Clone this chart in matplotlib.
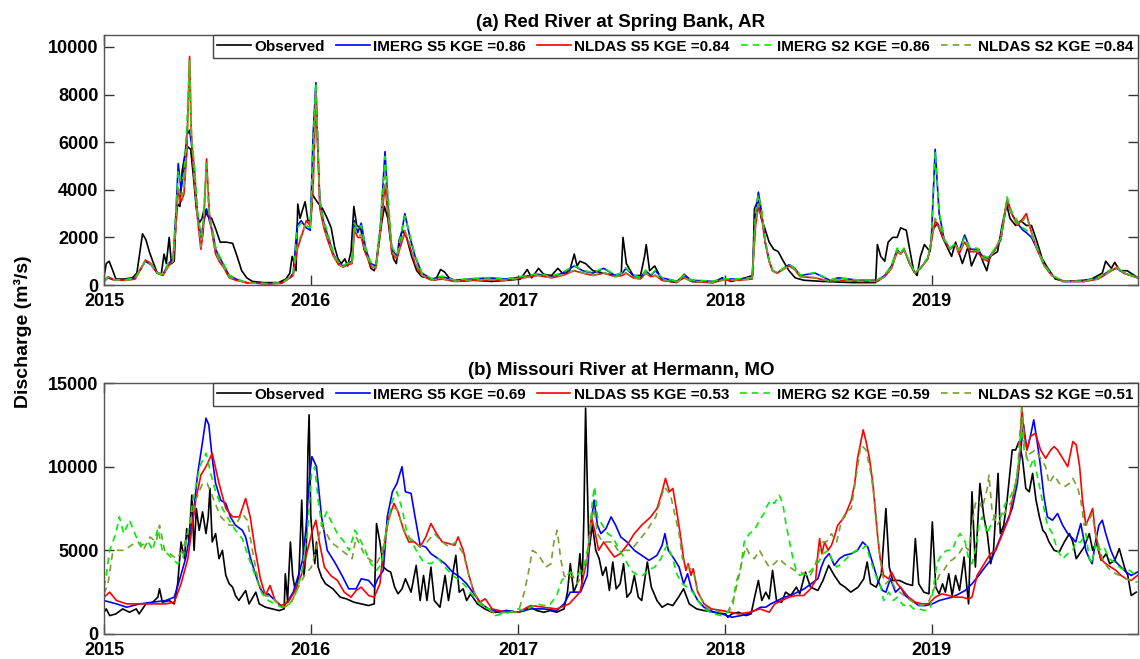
import matplotlib
matplotlib.use("Agg")
import matplotlib.pyplot as plt
import matplotlib.dates as mdates
import pandas as pd

# ---------------- Panel (a): Red River at Spring Bank, AR ----------------
a_title = "(a) Red River at Spring Bank, AR"
a_labels = ["Observed", "IMERG S5 KGE =0.86", "NLDAS S5 KGE =0.84",
            "IMERG S2 KGE =0.86", "NLDAS S2 KGE =0.84"]
a_yticks = [0, 2000, 4000, 6000, 8000, 10000]

a_obs = [
    ("2015-01-01", 350), ("2015-01-05", 900), ("2015-01-10", 1000), ("2015-01-15", 700),
    ("2015-01-22", 250), ("2015-02-05", 250), ("2015-02-20", 300), ("2015-02-28", 500),
    ("2015-03-06", 1500), ("2015-03-10", 2150), ("2015-03-16", 1900), ("2015-03-22", 1400),
    ("2015-03-28", 1000), ("2015-04-05", 500), ("2015-04-12", 450), ("2015-04-17", 1300),
    ("2015-04-21", 900), ("2015-04-26", 2000), ("2015-04-30", 900), ("2015-05-05", 1000),
    ("2015-05-08", 2800), ("2015-05-11", 3400), ("2015-05-15", 3300), ("2015-05-19", 4800),
    ("2015-05-24", 5500), ("2015-05-29", 5800), ("2015-06-03", 5700), ("2015-06-08", 4500),
    ("2015-06-13", 3200), ("2015-06-18", 2600), ("2015-06-23", 2800), ("2015-06-27", 3200),
    ("2015-07-03", 2900), ("2015-07-10", 2800), ("2015-07-18", 2300), ("2015-07-25", 1800),
    ("2015-08-05", 1800), ("2015-08-16", 1750), ("2015-08-24", 1200), ("2015-09-01", 600),
    ("2015-09-10", 300), ("2015-09-20", 150), ("2015-10-10", 100), ("2015-11-05", 100),
    ("2015-11-18", 250), ("2015-11-25", 500), ("2015-11-29", 1200), ("2015-12-03", 900),
    ("2015-12-06", 600), ("2015-12-09", 3400), ("2015-12-13", 2800), ("2015-12-18", 3200),
    ("2015-12-22", 3500), ("2015-12-27", 2700),
    ("2016-01-01", 2700), ("2016-01-04", 3800), ("2016-01-12", 3500), ("2016-01-22", 3200),
    ("2016-01-30", 2800), ("2016-02-06", 2400), ("2016-02-12", 1600), ("2016-02-18", 1100),
    ("2016-02-24", 900), ("2016-03-01", 1100), ("2016-03-06", 800), ("2016-03-12", 1400),
    ("2016-03-17", 3300), ("2016-03-22", 2500), ("2016-03-29", 2400), ("2016-04-04", 1500),
    ("2016-04-10", 1200), ("2016-04-16", 700), ("2016-04-22", 600), ("2016-04-26", 1000),
    ("2016-04-30", 1700), ("2016-05-05", 2600), ("2016-05-10", 3300), ("2016-05-16", 2800),
    ("2016-05-20", 2000), ("2016-05-26", 1100), ("2016-05-31", 900), ("2016-06-05", 1900),
    ("2016-06-11", 2300), ("2016-06-18", 2000), ("2016-06-27", 1200), ("2016-07-06", 600),
    ("2016-07-15", 350), ("2016-07-27", 300), ("2016-08-08", 200), ("2016-08-17", 650),
    ("2016-08-24", 550), ("2016-09-01", 300), ("2016-09-15", 150), ("2016-10-15", 200),
    ("2016-11-15", 150), ("2016-12-15", 200),
    ("2017-01-05", 250), ("2017-01-17", 650), ("2017-01-25", 300), ("2017-02-06", 700),
    ("2017-02-15", 450), ("2017-03-01", 400), ("2017-03-12", 700), ("2017-03-22", 450),
    ("2017-04-02", 600), ("2017-04-10", 1300), ("2017-04-15", 800), ("2017-04-20", 1000),
    ("2017-04-30", 900), ("2017-05-13", 600), ("2017-06-01", 500), ("2017-06-21", 400),
    ("2017-07-02", 500), ("2017-07-05", 2000), ("2017-07-11", 900), ("2017-07-23", 400),
    ("2017-08-05", 400), ("2017-08-12", 1200), ("2017-08-15", 1700), ("2017-08-21", 600),
    ("2017-08-30", 800), ("2017-09-12", 200), ("2017-10-08", 100), ("2017-10-21", 450),
    ("2017-11-03", 150), ("2017-12-11", 100), ("2017-12-27", 300),
    ("2018-01-12", 150), ("2018-02-06", 300), ("2018-02-19", 400), ("2018-02-22", 3200),
    ("2018-03-01", 3600), ("2018-03-06", 2800), ("2018-03-12", 2400), ("2018-03-20", 1800),
    ("2018-03-28", 1500), ("2018-04-05", 1400), ("2018-04-14", 1000), ("2018-04-24", 600),
    ("2018-05-05", 300), ("2018-05-20", 200), ("2018-06-22", 150), ("2018-08-15", 100),
    ("2018-09-24", 100), ("2018-09-27", 1700), ("2018-10-03", 1200), ("2018-10-10", 1000),
    ("2018-10-16", 1800), ("2018-10-24", 2000), ("2018-11-01", 2000), ("2018-11-07", 2400),
    ("2018-11-17", 2300), ("2018-11-23", 1500), ("2018-11-30", 600), ("2018-12-06", 400),
    ("2018-12-12", 1200), ("2018-12-19", 1700), ("2018-12-29", 1400),
    ("2019-01-02", 2300), ("2019-01-11", 2600), ("2019-01-20", 2000), ("2019-01-30", 1500),
    ("2019-02-05", 1200), ("2019-02-12", 1800), ("2019-02-24", 900), ("2019-03-06", 1600),
    ("2019-03-12", 800), ("2019-03-25", 1500), ("2019-04-01", 1000), ("2019-04-08", 600),
    ("2019-04-14", 1200), ("2019-04-27", 1400), ("2019-05-06", 2600), ("2019-05-13", 3400),
    ("2019-05-19", 2800), ("2019-05-29", 2500), ("2019-06-07", 2700), ("2019-06-17", 2500),
    ("2019-06-26", 2500), ("2019-07-06", 1800), ("2019-07-15", 1100), ("2019-07-25", 700),
    ("2019-08-07", 250), ("2019-08-26", 150), ("2019-09-27", 200), ("2019-10-10", 250),
    ("2019-10-29", 500), ("2019-11-04", 1000), ("2019-11-14", 700), ("2019-11-20", 950),
    ("2019-11-29", 600), ("2019-12-12", 600), ("2019-12-31", 300),
]

a_mod_dates = [
    # 2015 (40)
    "2015-01-01", "2015-01-08", "2015-01-20", "2015-02-10", "2015-02-25", "2015-03-05",
    "2015-03-15", "2015-03-25", "2015-04-05", "2015-04-15", "2015-04-25", "2015-05-03",
    "2015-05-08", "2015-05-12", "2015-05-17", "2015-05-22", "2015-05-27", "2015-06-01",
    "2015-06-04", "2015-06-09", "2015-06-15", "2015-06-21", "2015-06-25", "2015-07-01",
    "2015-07-06", "2015-07-12", "2015-07-17", "2015-07-23", "2015-08-01", "2015-08-10",
    "2015-08-22", "2015-09-09", "2015-10-15", "2015-11-10", "2015-11-25", "2015-12-01",
    "2015-12-08", "2015-12-15", "2015-12-24", "2015-12-31",
    # 2016 (33)
    "2016-01-05", "2016-01-10", "2016-01-13", "2016-01-17", "2016-01-24", "2016-02-01",
    "2016-02-10", "2016-02-19", "2016-02-27", "2016-03-07", "2016-03-14", "2016-03-18",
    "2016-03-24", "2016-03-30", "2016-04-07", "2016-04-16", "2016-04-25", "2016-05-03",
    "2016-05-11", "2016-05-16", "2016-05-23", "2016-06-01", "2016-06-07", "2016-06-15",
    "2016-06-24", "2016-07-03", "2016-07-15", "2016-08-01", "2016-08-20", "2016-09-10",
    "2016-10-10", "2016-11-10", "2016-12-10",
    # 2017 (22)
    "2017-01-10", "2017-02-05", "2017-03-01", "2017-03-20", "2017-04-10", "2017-04-25",
    "2017-05-13", "2017-06-01", "2017-06-21", "2017-07-04", "2017-07-10", "2017-07-23",
    "2017-08-05", "2017-08-14", "2017-08-23", "2017-08-31", "2017-09-12", "2017-10-08",
    "2017-10-21", "2017-11-03", "2017-12-11", "2017-12-27",
    # 2018 (27)
    "2018-01-25", "2018-02-18", "2018-02-24", "2018-03-01", "2018-03-07", "2018-03-13",
    "2018-03-20", "2018-03-26", "2018-04-03", "2018-04-24", "2018-05-04", "2018-05-14",
    "2018-06-09", "2018-07-05", "2018-07-20", "2018-08-24", "2018-09-27", "2018-10-10",
    "2018-10-22", "2018-11-01", "2018-11-07", "2018-11-13", "2018-11-23", "2018-12-02",
    "2018-12-12", "2018-12-25", "2018-12-31",
    # 2019 (29)
    "2019-01-07", "2019-01-14", "2019-01-23", "2019-02-02", "2019-02-12", "2019-02-18",
    "2019-02-28", "2019-03-10", "2019-03-22", "2019-04-01", "2019-04-10", "2019-04-23",
    "2019-05-03", "2019-05-14", "2019-05-22", "2019-06-01", "2019-06-11", "2019-06-17",
    "2019-06-26", "2019-07-06", "2019-07-19", "2019-08-01", "2019-08-20", "2019-09-27",
    "2019-10-22", "2019-11-11", "2019-11-24", "2019-12-06", "2019-12-31",
]

a_imerg_s5 = [
    150, 300, 200, 220, 300, 600, 1000, 850, 500, 450, 900, 1100,
    3000, 5100, 4000, 4800, 6300, 6500, 6000, 5000, 3000, 2000, 2500, 3200,
    2700, 2200, 1500, 1200, 800, 400, 250, 100, 50, 80, 300, 500,
    2500, 2700, 2400, 2300,
    6300, 8500, 6000, 3500, 2600, 2000, 1300, 900, 800, 900, 1000, 2700,
    2200, 2600, 1500, 900, 800, 2500, 5600, 3500, 1500, 1200, 1900, 3000,
    2000, 1200, 500, 250, 350, 200, 250, 300, 250,
    350, 450, 350, 500, 800, 600, 500, 700, 400, 500, 700, 400,
    300, 600, 400, 600, 300, 150, 400, 200, 150, 250,
    250, 300, 3000, 3900, 3000, 1800, 1000, 600, 500, 850, 700, 400,
    500, 200, 300, 200, 200, 400, 800, 1500, 1300, 1500, 900, 500,
    700, 1100, 1800,
    5700, 3000, 1900, 1500, 1700, 1400, 2100, 1500, 1500, 1200, 1100, 1500,
    1900, 3600, 3000, 2600, 2300, 2200, 2000, 1500, 800, 400, 150, 150,
    300, 600, 700, 500, 300,
]
a_nldas_s5 = [
    150, 350, 200, 200, 250, 600, 1050, 900, 500, 400, 800, 1000,
    2500, 4000, 3500, 3800, 5500, 9600, 6500, 4500, 2800, 1500, 2200, 5300,
    3000, 2000, 1300, 1000, 700, 300, 200, 100, 50, 70, 300, 400,
    1500, 2000, 2700, 2500,
    4000, 8000, 6000, 3200, 2400, 1800, 1200, 850, 750, 850, 900, 2300,
    2000, 2000, 1300, 800, 700, 2300, 4200, 3000, 1300, 1100, 1600, 2200,
    1600, 900, 400, 200, 250, 150, 200, 200, 200,
    300, 400, 300, 400, 600, 500, 400, 500, 350, 400, 500, 300,
    250, 500, 350, 400, 200, 120, 300, 150, 100, 200,
    200, 250, 2500, 3300, 2800, 1800, 1000, 600, 500, 800, 650, 350,
    300, 150, 200, 150, 150, 350, 700, 1400, 1300, 1500, 900, 500,
    700, 1100, 1800,
    2700, 2400, 1900, 1500, 1700, 1300, 1800, 1400, 1400, 1100, 1000, 1500,
    2000, 3500, 3000, 2500, 2800, 3000, 2200, 1500, 800, 400, 150, 150,
    250, 550, 750, 500, 300,
]
a_imerg_s2 = [
    160, 320, 210, 230, 300, 620, 1000, 870, 520, 460, 950, 1150,
    3200, 4800, 4300, 4600, 6600, 9400, 6200, 5200, 3100, 2100, 2600, 5100,
    2800, 2300, 1600, 1250, 850, 420, 260, 110, 60, 90, 320, 480,
    2400, 2600, 2500, 2400,
    6000, 8500, 6300, 3600, 2700, 2100, 1350, 950, 820, 920, 1050, 2600,
    2300, 2500, 1550, 950, 850, 2600, 5400, 3800, 1600, 1250, 2000, 2900,
    2100, 1250, 520, 270, 370, 210, 270, 310, 260,
    370, 470, 370, 520, 820, 620, 520, 720, 420, 520, 720, 420,
    320, 620, 420, 620, 310, 160, 420, 210, 160, 260,
    260, 310, 3100, 3800, 3100, 1900, 1050, 620, 520, 870, 720, 420,
    520, 210, 310, 210, 210, 420, 820, 1550, 1350, 1550, 950, 520,
    720, 1150, 1850,
    5600, 3100, 1950, 1550, 1750, 1450, 2000, 1550, 1550, 1250, 1150, 1550,
    1950, 3700, 3100, 2700, 2400, 2300, 2100, 1550, 850, 420, 160, 160,
    310, 620, 720, 520, 310,
]
a_nldas_s2 = [
    150, 340, 200, 200, 260, 590, 1000, 880, 500, 420, 820, 1000,
    2600, 4200, 3600, 4000, 5800, 9300, 6600, 4600, 2900, 1600, 2300, 5000,
    2900, 2100, 1400, 1050, 720, 320, 210, 100, 50, 70, 290, 420,
    1600, 2100, 2600, 2500,
    4200, 8200, 6100, 3300, 2500, 1900, 1250, 870, 760, 860, 950, 2400,
    2100, 2100, 1350, 820, 720, 2400, 4600, 3200, 1400, 1150, 1700, 2300,
    1700, 950, 420, 210, 260, 160, 210, 220, 210,
    310, 410, 310, 420, 620, 510, 410, 520, 360, 410, 520, 310,
    260, 510, 360, 420, 210, 130, 310, 160, 110, 210,
    210, 260, 2600, 3400, 2900, 1850, 1000, 610, 510, 810, 660, 360,
    310, 160, 210, 160, 160, 360, 720, 1450, 1300, 1500, 900, 500,
    700, 1100, 1800,
    2800, 2500, 1900, 1500, 1700, 1350, 1850, 1450, 1450, 1150, 1050, 1500,
    2000, 3600, 3000, 2550, 2700, 2900, 2250, 1500, 800, 400, 150, 150,
    260, 560, 740, 500, 300,
]

# ---------------- Panel (b): Missouri River at Hermann, MO ----------------
b_title = "(b) Missouri River at Hermann, MO"
b_labels = ["Observed", "IMERG S5 KGE =0.69", "NLDAS S5 KGE =0.53",
            "IMERG S2 KGE =0.59", "NLDAS S2 KGE =0.51"]
b_yticks = [0, 5000, 10000, 15000]

b_obs = [
    ("2015-01-01", 1300), ("2015-01-05", 1500), ("2015-01-11", 1100), ("2015-01-22", 1200),
    ("2015-02-03", 1500), ("2015-02-15", 1300), ("2015-02-27", 1500), ("2015-03-04", 1200),
    ("2015-03-16", 1800), ("2015-03-28", 1900), ("2015-04-06", 2200), ("2015-04-09", 2700),
    ("2015-04-14", 1900), ("2015-04-26", 2000), ("2015-05-05", 1800), ("2015-05-11", 3000),
    ("2015-05-17", 5500), ("2015-05-23", 4500), ("2015-05-27", 6300), ("2015-05-31", 5500),
    ("2015-06-05", 8300), ("2015-06-09", 5000), ("2015-06-13", 7500), ("2015-06-18", 6200),
    ("2015-06-24", 7300), ("2015-06-30", 6000), ("2015-07-04", 7000), ("2015-07-07", 8700),
    ("2015-07-11", 5500), ("2015-07-17", 6000), ("2015-07-23", 4500), ("2015-07-29", 5000),
    ("2015-08-04", 3500), ("2015-08-10", 3000), ("2015-08-16", 2800), ("2015-08-21", 2300),
    ("2015-08-27", 2000), ("2015-09-08", 2600), ("2015-09-14", 1800), ("2015-09-26", 2500),
    ("2015-10-02", 1800), ("2015-10-13", 1600), ("2015-11-06", 1400), ("2015-11-15", 1500),
    ("2015-11-17", 3600), ("2015-11-21", 2000), ("2015-11-26", 5500), ("2015-11-30", 3500),
    ("2015-12-05", 2500), ("2015-12-11", 3500), ("2015-12-16", 8000), ("2015-12-20", 3500),
    ("2015-12-24", 5000), ("2015-12-27", 11000), ("2015-12-29", 13100),
    ("2016-01-01", 7000), ("2016-01-04", 5700), ("2016-01-08", 4200), ("2016-01-11", 5500),
    ("2016-01-14", 4000), ("2016-01-20", 3400), ("2016-01-27", 3000), ("2016-02-09", 2700),
    ("2016-02-22", 2200), ("2016-03-04", 2100), ("2016-03-17", 1900), ("2016-03-30", 1800),
    ("2016-04-12", 1700), ("2016-04-22", 1800), ("2016-04-26", 6600), ("2016-05-02", 5500),
    ("2016-05-08", 4000), ("2016-05-15", 3800), ("2016-05-21", 3700), ("2016-05-28", 2800),
    ("2016-06-03", 2400), ("2016-06-10", 2700), ("2016-06-16", 3300), ("2016-06-26", 2500),
    ("2016-07-05", 4100), ("2016-07-12", 2000), ("2016-07-18", 3500), ("2016-07-24", 2000),
    ("2016-07-31", 4000), ("2016-08-06", 2000), ("2016-08-16", 1600), ("2016-08-25", 3500),
    ("2016-08-31", 2000), ("2016-09-07", 3500), ("2016-09-13", 4700), ("2016-09-19", 2500),
    ("2016-09-26", 2700), ("2016-10-02", 2000), ("2016-10-09", 2400), ("2016-10-21", 1800),
    ("2016-11-03", 1500), ("2016-11-16", 1300), ("2016-11-29", 1300), ("2016-12-11", 1400),
    ("2016-12-31", 1300),
    ("2017-01-12", 1400), ("2017-01-23", 1600), ("2017-02-03", 1400), ("2017-02-15", 1300),
    ("2017-02-27", 1400), ("2017-03-10", 1300), ("2017-03-23", 1500), ("2017-03-29", 2500),
    ("2017-04-03", 4200), ("2017-04-09", 2500), ("2017-04-15", 3000), ("2017-04-20", 4800),
    ("2017-04-24", 3000), ("2017-04-27", 7000), ("2017-04-30", 13500), ("2017-05-03", 9000),
    ("2017-05-06", 5000), ("2017-05-12", 6500), ("2017-05-18", 5000), ("2017-05-24", 4500),
    ("2017-05-30", 3500), ("2017-06-05", 4000), ("2017-06-11", 2600), ("2017-06-17", 4300),
    ("2017-06-23", 2700), ("2017-06-30", 3000), ("2017-07-06", 4200), ("2017-07-12", 2200),
    ("2017-07-19", 2500), ("2017-07-25", 3500), ("2017-08-01", 2200), ("2017-08-07", 2000),
    ("2017-08-17", 4300), ("2017-08-24", 2800), ("2017-09-03", 2000), ("2017-09-12", 1600),
    ("2017-09-22", 1800), ("2017-10-01", 1700), ("2017-10-11", 2200), ("2017-10-20", 2700),
    ("2017-10-30", 1800), ("2017-11-12", 1500), ("2017-11-25", 1400), ("2017-12-14", 1300),
    ("2018-01-02", 1200), ("2018-01-06", 1000), ("2018-01-13", 1200), ("2018-01-25", 1300),
    ("2018-02-07", 1100), ("2018-02-16", 1200), ("2018-02-23", 2300), ("2018-03-01", 3200),
    ("2018-03-07", 2000), ("2018-03-14", 2500), ("2018-03-20", 2100), ("2018-03-26", 3800),
    ("2018-04-02", 2000), ("2018-04-11", 1900), ("2018-04-18", 2500), ("2018-04-27", 2300),
    ("2018-05-07", 2800), ("2018-05-13", 2400), ("2018-05-23", 3700), ("2018-06-01", 2800),
    ("2018-06-14", 2600), ("2018-06-23", 3200), ("2018-07-03", 4100), ("2018-07-13", 3500),
    ("2018-07-23", 3000), ("2018-08-01", 2800), ("2018-08-11", 2500), ("2018-08-24", 2800),
    ("2018-09-03", 3300), ("2018-09-09", 4300), ("2018-09-15", 3000), ("2018-09-25", 2800),
    ("2018-10-04", 3600), ("2018-10-12", 7500), ("2018-10-18", 4000), ("2018-10-24", 3200),
    ("2018-11-05", 3200), ("2018-11-17", 3000), ("2018-11-28", 2900), ("2018-12-03", 5700),
    ("2018-12-09", 3000), ("2018-12-18", 2500), ("2018-12-27", 2400),
    ("2019-01-02", 6700), ("2019-01-08", 2800), ("2019-01-14", 2400), ("2019-01-20", 3000),
    ("2019-01-25", 2500), ("2019-01-31", 3600), ("2019-02-06", 2300), ("2019-02-12", 3500),
    ("2019-02-19", 2600), ("2019-02-27", 4600), ("2019-03-04", 2800), ("2019-03-07", 1800),
    ("2019-03-13", 8500), ("2019-03-19", 4000), ("2019-03-27", 9000), ("2019-04-03", 7000),
    ("2019-04-09", 6000), ("2019-04-15", 4200), ("2019-04-20", 5000), ("2019-04-28", 9600),
    ("2019-05-02", 6000), ("2019-05-08", 6500), ("2019-05-14", 8000), ("2019-05-23", 11000),
    ("2019-05-29", 11000), ("2019-06-04", 11500), ("2019-06-10", 10500), ("2019-06-16", 8700),
    ("2019-06-22", 8500), ("2019-06-28", 9600), ("2019-07-04", 8000), ("2019-07-10", 7000),
    ("2019-07-16", 6200), ("2019-07-21", 6000), ("2019-07-27", 5500), ("2019-08-05", 5000),
    ("2019-08-14", 4900), ("2019-08-23", 5500), ("2019-09-01", 6000), ("2019-09-07", 5500),
    ("2019-09-13", 4500), ("2019-09-19", 4800), ("2019-09-27", 5200), ("2019-10-06", 6000),
    ("2019-10-12", 5000), ("2019-10-18", 5500), ("2019-10-27", 4400), ("2019-11-05", 4800),
    ("2019-11-11", 4200), ("2019-11-20", 4400), ("2019-11-28", 5100), ("2019-12-07", 4000),
    ("2019-12-13", 3500), ("2019-12-19", 2300), ("2019-12-28", 2500),
]

b_imerg_s5 = [
    ("2015-01-01", 2000), ("2015-01-23", 1800), ("2015-02-10", 1600), ("2015-03-05", 1800),
    ("2015-03-28", 1900), ("2015-04-20", 2000), ("2015-05-05", 2200), ("2015-05-14", 3200),
    ("2015-05-25", 4500), ("2015-06-07", 6900), ("2015-06-15", 9500), ("2015-06-24", 11500),
    ("2015-06-30", 12900), ("2015-07-05", 12500), ("2015-07-11", 10500), ("2015-07-17", 9000),
    ("2015-07-26", 8000), ("2015-08-04", 7800), ("2015-08-12", 7000), ("2015-08-21", 6500),
    ("2015-09-02", 6200), ("2015-09-08", 5800), ("2015-09-16", 4600), ("2015-09-25", 3600),
    ("2015-10-04", 2700), ("2015-10-13", 2300), ("2015-10-18", 2400), ("2015-10-24", 2200),
    ("2015-11-05", 1800), ("2015-11-13", 1600), ("2015-11-22", 2000), ("2015-12-01", 2500),
    ("2015-12-10", 3500), ("2015-12-18", 4500), ("2015-12-24", 6500), ("2015-12-30", 9500),
    ("2016-01-03", 10600), ("2016-01-11", 10000), ("2016-01-20", 7000), ("2016-01-30", 5000),
    ("2016-02-12", 4300), ("2016-02-25", 3500), ("2016-03-08", 2700), ("2016-03-21", 2700),
    ("2016-03-30", 3300), ("2016-04-12", 3200), ("2016-04-22", 2800), ("2016-04-28", 3300),
    ("2016-05-08", 3800), ("2016-05-15", 7000), ("2016-05-24", 8500), ("2016-06-01", 9000),
    ("2016-06-10", 10000), ("2016-06-16", 8500), ("2016-06-26", 8400), ("2016-07-03", 7000),
    ("2016-07-12", 5300), ("2016-07-22", 5200), ("2016-07-31", 4800), ("2016-08-13", 4500),
    ("2016-08-25", 4200), ("2016-09-07", 3700), ("2016-09-20", 3400), ("2016-10-02", 3000),
    ("2016-10-15", 2400), ("2016-10-28", 1800), ("2016-11-10", 1500), ("2016-11-29", 1300),
    ("2016-12-11", 1400),
    ("2017-01-01", 1300), ("2017-01-23", 1500), ("2017-02-15", 1500), ("2017-03-10", 1400),
    ("2017-03-23", 1800), ("2017-04-03", 2500), ("2017-04-21", 2500), ("2017-05-03", 3500),
    ("2017-05-09", 6500), ("2017-05-15", 8000), ("2017-05-21", 6500), ("2017-05-27", 6000),
    ("2017-06-05", 6300), ("2017-06-14", 7000), ("2017-06-22", 6500), ("2017-07-01", 5800),
    ("2017-07-12", 5500), ("2017-07-25", 5000), ("2017-08-07", 4700), ("2017-08-20", 4400),
    ("2017-09-03", 4700), ("2017-09-12", 5300), ("2017-09-17", 6000), ("2017-09-23", 5000),
    ("2017-10-03", 4500), ("2017-10-12", 4000), ("2017-10-20", 3000), ("2017-10-27", 3600),
    ("2017-11-03", 2700), ("2017-11-14", 2000), ("2017-11-25", 1600), ("2017-12-13", 1300),
    ("2017-12-27", 1200),
    ("2018-01-13", 1000), ("2018-01-29", 1100), ("2018-02-10", 1200), ("2018-02-22", 1400),
    ("2018-03-05", 1600), ("2018-03-14", 1600), ("2018-03-23", 1800), ("2018-04-04", 2000),
    ("2018-04-16", 2200), ("2018-04-27", 2300), ("2018-05-09", 2500), ("2018-05-21", 2700),
    ("2018-06-02", 3000), ("2018-06-14", 3300), ("2018-06-20", 4000), ("2018-06-26", 4500),
    ("2018-07-04", 4800), ("2018-07-13", 4100), ("2018-07-22", 4500), ("2018-07-31", 4700),
    ("2018-08-12", 4800), ("2018-08-23", 5000), ("2018-09-01", 5500), ("2018-09-10", 5200),
    ("2018-09-19", 4200), ("2018-09-28", 3200), ("2018-10-06", 2600), ("2018-10-12", 2500),
    ("2018-10-20", 3300), ("2018-10-29", 2500), ("2018-11-07", 2800), ("2018-11-15", 2300),
    ("2018-11-27", 2000), ("2018-12-09", 1700), ("2018-12-21", 1700),
    ("2019-01-02", 1800), ("2019-01-14", 2000), ("2019-01-25", 2100), ("2019-02-06", 2200),
    ("2019-02-18", 2400), ("2019-03-01", 2600), ("2019-03-13", 3000), ("2019-03-25", 3500),
    ("2019-04-05", 4000), ("2019-04-17", 4500), ("2019-04-29", 5500), ("2019-05-11", 6500),
    ("2019-05-23", 7500), ("2019-06-01", 9000), ("2019-06-07", 11000), ("2019-06-12", 12500),
    ("2019-06-18", 11000), ("2019-06-24", 11800), ("2019-06-30", 12800), ("2019-07-06", 11500),
    ("2019-07-12", 10000), ("2019-07-18", 8200), ("2019-07-24", 7000), ("2019-08-02", 6800),
    ("2019-08-11", 7200), ("2019-08-20", 6500), ("2019-08-29", 6000), ("2019-09-07", 5700),
    ("2019-09-12", 5500), ("2019-09-21", 6600), ("2019-09-30", 5000), ("2019-10-06", 4500),
    ("2019-10-11", 4200), ("2019-10-17", 5500), ("2019-10-23", 6500), ("2019-10-29", 6800),
    ("2019-11-04", 6000), ("2019-11-13", 5000), ("2019-11-22", 4300), ("2019-12-01", 4000),
    ("2019-12-10", 3700), ("2019-12-19", 3500), ("2019-12-30", 3700),
]

b_nldas_s5 = [
    ("2015-01-01", 2200), ("2015-01-11", 2500), ("2015-01-23", 2000), ("2015-02-10", 1800),
    ("2015-03-15", 1800), ("2015-04-20", 1800), ("2015-05-05", 1900), ("2015-05-17", 3000),
    ("2015-05-29", 4500), ("2015-06-12", 8000), ("2015-06-21", 9500), ("2015-06-30", 10000),
    ("2015-07-11", 10800), ("2015-07-23", 9000), ("2015-08-04", 7500), ("2015-08-16", 7000),
    ("2015-08-28", 7000), ("2015-09-08", 8100), ("2015-09-16", 7000), ("2015-09-25", 5000),
    ("2015-10-04", 3300), ("2015-10-13", 2300), ("2015-10-21", 2900), ("2015-10-30", 2000),
    ("2015-11-10", 1700), ("2015-11-22", 1900), ("2015-12-03", 2500), ("2015-12-15", 3500),
    ("2015-12-26", 5000),
    ("2016-01-04", 6200), ("2016-01-10", 6800), ("2016-01-16", 5500), ("2016-01-25", 4000),
    ("2016-02-05", 3500), ("2016-02-17", 3200), ("2016-02-29", 2500), ("2016-03-12", 2200),
    ("2016-03-21", 2600), ("2016-03-30", 2800), ("2016-04-12", 2300), ("2016-04-22", 2200),
    ("2016-05-02", 3000), ("2016-05-08", 5000), ("2016-05-18", 7000), ("2016-05-27", 7800),
    ("2016-06-03", 7300), ("2016-06-13", 6200), ("2016-06-22", 5500), ("2016-07-02", 5500),
    ("2016-07-12", 5200), ("2016-07-22", 5800), ("2016-07-31", 6600), ("2016-08-10", 6000),
    ("2016-08-20", 5500), ("2016-09-01", 5400), ("2016-09-11", 5300), ("2016-09-17", 5800),
    ("2016-09-26", 5000), ("2016-10-06", 3500), ("2016-10-15", 2500), ("2016-10-25", 1900),
    ("2016-11-04", 2100), ("2016-11-16", 1500), ("2016-11-29", 1400), ("2016-12-11", 1300),
    ("2017-01-01", 1300), ("2017-01-23", 1700), ("2017-02-15", 1600), ("2017-03-10", 1500),
    ("2017-04-01", 1800), ("2017-04-20", 2500), ("2017-05-03", 4500), ("2017-05-10", 7000),
    ("2017-05-16", 6200), ("2017-05-23", 5000), ("2017-06-01", 5500), ("2017-06-11", 5000),
    ("2017-06-20", 4600), ("2017-06-30", 4800), ("2017-07-12", 5300), ("2017-07-25", 6000),
    ("2017-08-07", 6500), ("2017-08-23", 7000), ("2017-09-03", 7500), ("2017-09-12", 8500),
    ("2017-09-18", 9300), ("2017-09-25", 8500), ("2017-10-01", 8700), ("2017-10-07", 7500),
    ("2017-10-14", 6000), ("2017-10-20", 4500), ("2017-10-24", 3800), ("2017-10-28", 4200),
    ("2017-11-02", 3500), ("2017-11-06", 3900), ("2017-11-14", 2500), ("2017-11-25", 1800),
    ("2017-12-08", 1500), ("2017-12-27", 1400),
    ("2018-01-25", 1200), ("2018-02-13", 1300), ("2018-03-04", 1500), ("2018-03-20", 1300),
    ("2018-03-30", 1800), ("2018-04-11", 2000), ("2018-04-24", 2200), ("2018-05-07", 2300),
    ("2018-05-20", 2300), ("2018-06-01", 2700), ("2018-06-10", 3200), ("2018-06-14", 4800),
    ("2018-06-17", 5700), ("2018-06-21", 4800), ("2018-06-26", 5500), ("2018-07-02", 5000),
    ("2018-07-08", 5300), ("2018-07-13", 5800), ("2018-07-19", 6500), ("2018-07-31", 7000),
    ("2018-08-06", 7500), ("2018-08-12", 8000), ("2018-08-18", 9000), ("2018-08-23", 10500),
    ("2018-08-29", 11500), ("2018-09-02", 12200), ("2018-09-07", 11500), ("2018-09-13", 10500),
    ("2018-09-19", 9000), ("2018-09-27", 6000), ("2018-10-02", 4500), ("2018-10-08", 3500),
    ("2018-10-17", 3300), ("2018-10-22", 3700), ("2018-11-01", 3000), ("2018-11-09", 2700),
    ("2018-11-21", 2200), ("2018-12-03", 1900), ("2018-12-15", 1800), ("2018-12-26", 1800),
    ("2019-01-07", 2200), ("2019-01-19", 2400), ("2019-01-31", 2300), ("2019-02-12", 2200),
    ("2019-02-23", 2200), ("2019-03-07", 2100), ("2019-03-13", 2200), ("2019-03-22", 3500),
    ("2019-04-09", 4500), ("2019-04-15", 4800), ("2019-04-24", 5000), ("2019-05-06", 6000),
    ("2019-05-18", 7000), ("2019-05-26", 8500), ("2019-06-04", 10000), ("2019-06-09", 13500),
    ("2019-06-13", 12000), ("2019-06-18", 11000), ("2019-06-24", 11800), ("2019-07-03", 12000),
    ("2019-07-12", 11000), ("2019-07-21", 10500), ("2019-07-30", 11000), ("2019-08-05", 11200),
    ("2019-08-11", 11000), ("2019-08-20", 10500), ("2019-08-29", 10000), ("2019-09-07", 11500),
    ("2019-09-13", 11300), ("2019-09-19", 10000), ("2019-09-24", 8000), ("2019-09-30", 6500),
    ("2019-10-06", 7000), ("2019-10-12", 7500), ("2019-10-17", 6000), ("2019-10-26", 4500),
    ("2019-11-04", 4200), ("2019-11-13", 4000), ("2019-11-22", 3800), ("2019-12-01", 3500),
    ("2019-12-10", 3300), ("2019-12-19", 3200), ("2019-12-30", 3500),
]

b_imerg_s2 = [
    ("2015-01-01", 2800), ("2015-01-05", 3500), ("2015-01-11", 5000), ("2015-01-22", 6000),
    ("2015-01-28", 7000), ("2015-02-05", 6000), ("2015-02-15", 6800), ("2015-02-27", 5800),
    ("2015-03-09", 5300), ("2015-03-20", 5500), ("2015-03-28", 5000), ("2015-04-06", 6300),
    ("2015-04-14", 5000), ("2015-04-23", 4800), ("2015-05-02", 4500), ("2015-05-11", 4200),
    ("2015-05-20", 4500), ("2015-05-29", 6000), ("2015-06-07", 8000), ("2015-06-19", 10000),
    ("2015-06-30", 10800), ("2015-07-09", 9500), ("2015-07-17", 8500), ("2015-07-29", 7500),
    ("2015-08-10", 6800), ("2015-08-21", 6200), ("2015-09-02", 5700), ("2015-09-14", 4500),
    ("2015-09-25", 3500), ("2015-10-07", 2400), ("2015-10-18", 2000), ("2015-10-30", 1800),
    ("2015-11-10", 1600), ("2015-11-22", 1700), ("2015-12-03", 2200), ("2015-12-15", 3500),
    ("2015-12-26", 6000),
    ("2016-01-02", 9500), ("2016-01-08", 10000), ("2016-01-14", 8000), ("2016-01-20", 6500),
    ("2016-01-29", 7300), ("2016-02-05", 6800), ("2016-02-17", 6000), ("2016-02-29", 5500),
    ("2016-03-09", 5000), ("2016-03-19", 6200), ("2016-03-30", 5500), ("2016-04-06", 5000),
    ("2016-04-16", 4200), ("2016-04-26", 3800), ("2016-05-05", 4200), ("2016-05-15", 6500),
    ("2016-05-24", 8000), ("2016-06-01", 8500), ("2016-06-10", 7500), ("2016-06-19", 6000),
    ("2016-06-29", 5400), ("2016-07-08", 4800), ("2016-07-18", 4300), ("2016-07-31", 4200),
    ("2016-08-13", 4500), ("2016-08-25", 4000), ("2016-09-07", 3500), ("2016-09-20", 3200),
    ("2016-10-02", 2800), ("2016-10-15", 2200), ("2016-10-28", 1700), ("2016-11-10", 1500),
    ("2016-11-22", 1100), ("2016-12-05", 1200), ("2016-12-18", 1300),
    ("2017-01-01", 1500), ("2017-01-12", 1400), ("2017-01-23", 1600), ("2017-02-03", 1800),
    ("2017-02-15", 1700), ("2017-02-27", 1800), ("2017-03-10", 2300), ("2017-03-19", 3200),
    ("2017-04-03", 3700), ("2017-04-15", 3500), ("2017-04-27", 4000), ("2017-05-06", 5500),
    ("2017-05-12", 8000), ("2017-05-16", 8800), ("2017-05-21", 7000), ("2017-05-30", 6500),
    ("2017-06-08", 6000), ("2017-06-17", 5800), ("2017-06-26", 5200), ("2017-07-08", 4500),
    ("2017-07-19", 3800), ("2017-07-31", 3500), ("2017-08-09", 3500), ("2017-08-18", 3800),
    ("2017-08-30", 4000), ("2017-09-10", 4500), ("2017-09-16", 5000), ("2017-09-21", 5300),
    ("2017-09-30", 4600), ("2017-10-09", 3500), ("2017-10-18", 3000), ("2017-10-26", 2800),
    ("2017-11-05", 2500), ("2017-11-14", 2000), ("2017-11-25", 1500), ("2017-12-13", 1200),
    ("2017-12-25", 1100),
    ("2018-01-06", 1300), ("2018-01-15", 1700), ("2018-01-20", 3000), ("2018-01-29", 4000),
    ("2018-02-04", 5500), ("2018-02-13", 6000), ("2018-02-22", 6200), ("2018-03-03", 6800),
    ("2018-03-11", 7200), ("2018-03-17", 7700), ("2018-03-23", 8000), ("2018-03-29", 7800),
    ("2018-04-07", 8300), ("2018-04-13", 7800), ("2018-04-19", 6500), ("2018-04-25", 5500),
    ("2018-05-01", 4500), ("2018-05-07", 3800), ("2018-05-13", 3500), ("2018-05-19", 3600),
    ("2018-05-27", 3600), ("2018-06-08", 4000), ("2018-06-17", 4400), ("2018-06-23", 4800),
    ("2018-07-02", 5000), ("2018-07-08", 4500), ("2018-07-17", 4000), ("2018-07-26", 4200),
    ("2018-08-03", 4500), ("2018-08-12", 4800), ("2018-08-21", 5000), ("2018-08-29", 5000),
    ("2018-09-07", 5300), ("2018-09-16", 4300), ("2018-09-24", 3500), ("2018-10-03", 2800),
    ("2018-10-08", 2000), ("2018-10-17", 2500), ("2018-10-25", 2000), ("2018-11-01", 2200),
    ("2018-11-12", 1700), ("2018-11-21", 1800), ("2018-11-30", 1500), ("2018-12-09", 1500),
    ("2018-12-21", 1400), ("2018-12-30", 1600),
    ("2019-01-05", 3000), ("2019-01-10", 4200), ("2019-01-19", 4800), ("2019-01-28", 5000),
    ("2019-02-06", 5000), ("2019-02-14", 5700), ("2019-02-20", 6000), ("2019-03-01", 5500),
    ("2019-03-07", 4500), ("2019-03-13", 4200), ("2019-03-19", 5000), ("2019-03-25", 6500),
    ("2019-03-31", 7000), ("2019-04-09", 6000), ("2019-04-15", 6500), ("2019-04-24", 7200),
    ("2019-05-03", 7000), ("2019-05-11", 7800), ("2019-05-20", 8200), ("2019-05-29", 9000),
    ("2019-06-04", 10500), ("2019-06-09", 12500), ("2019-06-13", 11000), ("2019-06-18", 10500),
    ("2019-06-24", 10000), ("2019-06-30", 10500), ("2019-07-06", 9500), ("2019-07-12", 8500),
    ("2019-07-18", 7500), ("2019-07-24", 6500), ("2019-08-02", 6000), ("2019-08-11", 5000),
    ("2019-08-20", 4500), ("2019-08-29", 4800), ("2019-09-07", 5000), ("2019-09-12", 5500),
    ("2019-09-21", 5500), ("2019-09-30", 6000), ("2019-10-06", 4500), ("2019-10-11", 4200),
    ("2019-10-17", 5500), ("2019-10-23", 5000), ("2019-11-01", 5200), ("2019-11-10", 4500),
    ("2019-11-19", 4300), ("2019-11-28", 4000), ("2019-12-07", 3800), ("2019-12-16", 3800),
    ("2019-12-28", 3500),
]

b_nldas_s2 = [
    ("2015-01-01", 2400), ("2015-01-08", 3000), ("2015-01-16", 4800), ("2015-01-25", 5000),
    ("2015-02-06", 5000), ("2015-02-18", 5300), ("2015-03-02", 5500), ("2015-03-11", 5000),
    ("2015-03-23", 5800), ("2015-04-03", 5500), ("2015-04-09", 6500), ("2015-04-18", 5000),
    ("2015-04-27", 4800), ("2015-05-09", 4500), ("2015-05-20", 5000), ("2015-06-01", 6500),
    ("2015-06-12", 8000), ("2015-06-24", 9000), ("2015-07-02", 9000), ("2015-07-14", 8000),
    ("2015-07-26", 7000), ("2015-08-10", 6500), ("2015-08-21", 6500), ("2015-09-02", 7200),
    ("2015-09-11", 6800), ("2015-09-20", 5000), ("2015-10-01", 3000), ("2015-10-13", 2300),
    ("2015-10-24", 2200), ("2015-11-05", 1800), ("2015-11-16", 1600), ("2015-11-28", 1900),
    ("2015-12-10", 2800), ("2015-12-21", 3500),
    ("2016-01-02", 4000), ("2016-01-10", 5000), ("2016-01-20", 6500), ("2016-01-29", 6000),
    ("2016-02-05", 5500), ("2016-02-17", 5200), ("2016-03-03", 4800), ("2016-03-14", 4500),
    ("2016-03-21", 5800), ("2016-04-04", 4800), ("2016-04-12", 4500), ("2016-04-26", 4200),
    ("2016-05-05", 4800), ("2016-05-15", 6500), ("2016-05-24", 7500), ("2016-06-01", 7500),
    ("2016-06-10", 6500), ("2016-06-19", 5800), ("2016-06-29", 5600), ("2016-07-12", 5200),
    ("2016-07-24", 5500), ("2016-08-06", 6000), ("2016-08-20", 5500), ("2016-09-01", 5200),
    ("2016-09-13", 5500), ("2016-09-26", 4800), ("2016-10-06", 3500), ("2016-10-15", 2500),
    ("2016-10-28", 1800), ("2016-11-10", 1500), ("2016-11-22", 1200), ("2016-12-11", 1300),
    ("2017-01-01", 1300), ("2017-01-12", 2500), ("2017-01-21", 4000), ("2017-01-26", 5000),
    ("2017-02-04", 4800), ("2017-02-10", 4500), ("2017-02-19", 4000), ("2017-02-28", 4200),
    ("2017-03-05", 5500), ("2017-03-11", 6200), ("2017-03-17", 4500), ("2017-03-23", 3500),
    ("2017-03-29", 3300), ("2017-04-07", 3500), ("2017-04-15", 3000), ("2017-04-24", 3500),
    ("2017-05-03", 4500), ("2017-05-09", 6500), ("2017-05-15", 7500), ("2017-05-21", 6000),
    ("2017-05-30", 5500), ("2017-06-08", 5500), ("2017-06-17", 5500), ("2017-06-26", 5000),
    ("2017-07-19", 5000), ("2017-08-12", 6000), ("2017-09-01", 7000), ("2017-09-16", 8800),
    ("2017-09-27", 8300), ("2017-10-12", 6000), ("2017-10-18", 4500), ("2017-10-28", 4000),
    ("2017-11-06", 3800), ("2017-11-14", 2500), ("2017-12-01", 1500), ("2017-12-25", 1300),
    ("2018-01-06", 1300), ("2018-01-17", 2200), ("2018-01-26", 3500), ("2018-02-01", 4500),
    ("2018-02-07", 5200), ("2018-02-13", 4800), ("2018-02-22", 4500), ("2018-03-03", 5000),
    ("2018-03-11", 4500), ("2018-03-20", 4000), ("2018-03-29", 4200), ("2018-04-07", 4500),
    ("2018-04-16", 4200), ("2018-04-25", 4000), ("2018-05-04", 3800), ("2018-05-13", 3700),
    ("2018-05-21", 3600), ("2018-05-30", 3400), ("2018-06-08", 4000), ("2018-06-17", 5000),
    ("2018-06-23", 5500), ("2018-06-29", 5500), ("2018-07-08", 6000), ("2018-07-17", 5500),
    ("2018-07-26", 6800), ("2018-08-03", 7300), ("2018-08-12", 7500), ("2018-08-21", 9500),
    ("2018-08-29", 11300), ("2018-09-07", 11000), ("2018-09-16", 9500), ("2018-09-24", 7500),
    ("2018-09-30", 5000), ("2018-10-06", 3500), ("2018-10-12", 3000), ("2018-10-20", 3300),
    ("2018-10-29", 2700), ("2018-11-09", 2400), ("2018-11-21", 2100), ("2018-12-03", 1800),
    ("2018-12-15", 1700), ("2018-12-26", 1900),
    ("2019-01-05", 2700), ("2019-01-14", 3500), ("2019-01-22", 3800), ("2019-01-31", 4300),
    ("2019-02-09", 4500), ("2019-02-18", 4800), ("2019-02-27", 5300), ("2019-03-07", 5000),
    ("2019-03-13", 6500), ("2019-03-19", 7800), ("2019-03-25", 8000), ("2019-03-31", 7500),
    ("2019-04-09", 8700), ("2019-04-12", 9500), ("2019-04-17", 7500), ("2019-04-26", 6500),
    ("2019-05-06", 7000), ("2019-05-14", 7500), ("2019-05-23", 8000), ("2019-06-01", 9500),
    ("2019-06-09", 13800), ("2019-06-13", 11500), ("2019-06-18", 10500), ("2019-06-24", 10800),
    ("2019-07-03", 11000), ("2019-07-12", 10500), ("2019-07-21", 10000), ("2019-07-27", 9000),
    ("2019-08-05", 9500), ("2019-08-14", 9000), ("2019-08-23", 8800), ("2019-09-01", 9000),
    ("2019-09-07", 9300), ("2019-09-16", 8700), ("2019-09-21", 8000), ("2019-09-27", 6500),
    ("2019-10-06", 6800), ("2019-10-11", 7200), ("2019-10-17", 6000), ("2019-10-29", 4500),
    ("2019-11-07", 4000), ("2019-11-16", 3700), ("2019-11-28", 3500), ("2019-12-10", 3300),
    ("2019-12-19", 3200), ("2019-12-30", 3100),
]

# ---------------- styling ----------------
COLORS = ["#000000", "#0000ff", "#ff0000", "#00ee00", "#77a030"]
STYLES = ["-", "-", "-", (0, (4, 3)), (0, (4, 3))]
LW = 1.2
FONT = ["Liberation Sans", "DejaVu Sans"]
plt.rcParams["font.family"] = FONT
plt.rcParams["font.weight"] = "bold"


def split(pairs):
    d = pd.to_datetime([p[0] for p in pairs])
    v = [p[1] for p in pairs]
    return d, v


def style_axis(ax, yticks, ylim, title):
    ax.set_xlim(pd.Timestamp("2015-01-01"), pd.Timestamp("2019-12-31"))
    ax.set_ylim(*ylim)
    ax.set_yticks(yticks)
    ax.set_yticklabels([str(t) for t in yticks])
    ax.xaxis.set_major_locator(mdates.YearLocator())
    ax.xaxis.set_major_formatter(mdates.DateFormatter("%Y"))
    ax.tick_params(axis="both", direction="in", length=7, width=1.0,
                   labelsize=13, top=True, right=True, colors="#333333",
                   labelcolor="black")
    ax.tick_params(axis="x", pad=6)
    ax.tick_params(axis="y", pad=4)
    for lab in ax.get_xticklabels() + ax.get_yticklabels():
        lab.set_fontweight("bold")
    for s in ax.spines.values():
        s.set_color("#555555")
        s.set_linewidth(1.0)
    ax.set_title(title, fontsize=13.5, fontweight="bold", pad=6)


def legend(ax, handles, labels):
    leg = ax.legend(handles, labels, loc="upper right", ncol=5, frameon=True,
                    fancybox=False, edgecolor="#444444", borderaxespad=0.0,
                    handlelength=2.2, handletextpad=0.2, columnspacing=0.75,
                    borderpad=0.3, prop={"size": 11, "weight": "bold"})
    leg.get_frame().set_linewidth(1.0)
    leg.get_frame().set_alpha(1.0)


fig = plt.figure(figsize=(11.4, 6.59), dpi=100)
axa = fig.add_axes([104 / 1140, 1 - 285 / 659, 1034 / 1140, 250 / 659])
axb = fig.add_axes([104 / 1140, 1 - 634 / 659, 1034 / 1140, 251 / 659])

# panel a
d, v = split(a_obs)
ha = [axa.plot(d, v, color=COLORS[0], lw=LW, linestyle=STYLES[0])[0]]
md = pd.to_datetime(a_mod_dates)
for k, series in enumerate([a_imerg_s5, a_nldas_s5, a_imerg_s2, a_nldas_s2], start=1):
    n = min(len(md), len(series))
    ha.append(axa.plot(md[:n], series[:n], color=COLORS[k], lw=LW,
                       linestyle=STYLES[k])[0])
style_axis(axa, a_yticks, (0, 10500), a_title)
legend(axa, ha, a_labels)

# panel b
hb = []
for k, series in enumerate([b_obs, b_imerg_s5, b_nldas_s5, b_imerg_s2, b_nldas_s2]):
    d, v = split(series)
    hb.append(axb.plot(d, v, color=COLORS[k], lw=LW, linestyle=STYLES[k])[0])
style_axis(axb, b_yticks, (0, 15000), b_title)
legend(axb, hb, b_labels)

fig.text(23 / 1140, 1 - 332 / 659, "Discharge (m\u00b3/s)", rotation=90,
         ha="center", va="center", fontsize=14, fontweight="bold")

fig.savefig("out.png", dpi=100)
